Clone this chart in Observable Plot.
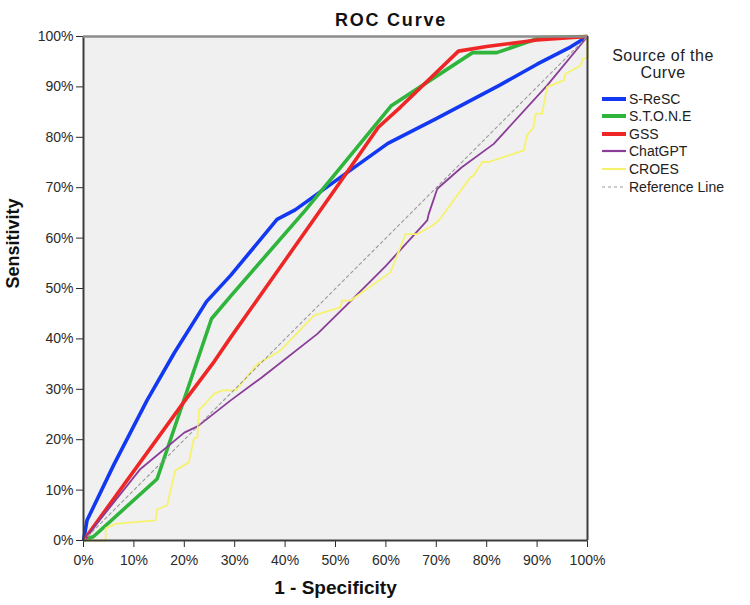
<!DOCTYPE html>
<html>
<head>
<meta charset="utf-8">
<script src="https://cdn.jsdelivr.net/npm/d3@7"></script>
<script src="https://cdn.jsdelivr.net/npm/@observablehq/plot@0.6"></script>
<style>
  html, body { margin: 0; padding: 0; background: #fff; }
  #wrap { position: relative; width: 750px; height: 605px; font-family: "Liberation Sans", Arial, sans-serif; color: #222; }
  #title { position: absolute; left: 291px; width: 200px; top: 11px; text-align: center;
           font-weight: bold; font-size: 18px; line-height: 18px; letter-spacing: 1.8px; color: #111; }
  #legend-title { position: absolute; left: 598px; width: 130px; top: 48px; text-align: center;
                  font-size: 16px; line-height: 16.5px; letter-spacing: 0.5px; color: #222; }
  .lg-row { position: absolute; left: 602px; height: 18px; display: flex; align-items: center;
            font-size: 14px; color: #222; white-space: nowrap; }
  .lg-row svg { margin-right: 3px; }
</style>
</head>
<body>
<div id="wrap">
  <div id="chart"></div>
  <div id="title">ROC Curve</div>
  <div id="legend-title">Source of the<br>Curve</div>
  <div id="legend"></div>
</div>
<script>
// Curve names, in drawing / legend order
const curveNames = ["S-ReSC", "S.T.O.N.E", "GSS", "ChatGPT", "CROES"];

// 1 - specificity (%) and sensitivity (%) along each curve
const srescX = [0, 0.7, 6, 12.6, 18, 24.4, 29.2, 38.4, 42, 52, 60.4, 70, 82.5, 90, 96.6, 100];
const srescY = [0, 4, 15, 27.8, 37.2, 47.4, 52.6, 63.7, 65.6, 72.8, 78.8, 83.7, 90.3, 94.5, 97.9, 100];

const stoneX = [0, 2, 14.6, 25.4, 29.2, 44, 61, 77.2, 82, 90.7, 100];
const stoneY = [0, 0.8, 12.2, 44, 48.5, 65.5, 86.2, 96.8, 96.8, 99.8, 100];

const gssX = [0, 20, 26, 29.2, 40, 50, 58.5, 62.9, 74.4, 80, 90, 100];
const gssY = [0, 27.6, 35.6, 40.3, 55.6, 69.8, 82, 86, 97.1, 98, 99.3, 100];

const chatgptX = [0, 11.3, 20, 22.7, 29.2, 35.3, 46.4, 52, 60, 68.2, 68.5, 70.2, 75, 81.4, 92, 100];
const chatgptY = [0, 14.2, 21.4, 22.7, 27.8, 32.3, 41, 46.5, 54.5, 63.5, 64.8, 69.8, 74, 78.7, 90.3, 100];

const croesX = [0, 4.4, 4.4, 6.3, 14.3, 14.6, 16.6, 18.2, 20.9, 21.9, 22.6, 22.9, 25.9, 27.5, 30.2, 34.5,
                39.1, 45.7, 51, 51.3, 53, 60.9, 63.9, 66.2, 68.8, 70.5, 76.8, 77.4, 79.1, 80.4, 87.4, 88,
                89.3, 89.7, 91, 92, 95.3, 95.6, 98.6, 99, 100, 100];
const croesY = [0, 0, 2.4, 3.3, 4, 6.2, 7, 13.9, 15.5, 20.2, 20.5, 25.8, 29.1, 29.8, 29.8, 35,
                37.7, 44.6, 46.3, 47.6, 47.6, 53.2, 60.8, 60.8, 62.2, 63.5, 72.1, 72.4, 75.1, 75.1, 77.4, 80.4,
                82, 84.7, 84.7, 90, 91.3, 92.6, 94.2, 95.5, 95.8, 100];

// Diagonal chance line
const refX = [0, 100];
const refY = [0, 100];

// Axis tick values (%)
const xTicks = [0, 10, 20, 30, 40, 50, 60, 70, 80, 90, 100];
const yTicks = [0, 10, 20, 30, 40, 50, 60, 70, 80, 90, 100];

const curveColors = ["#1238f2", "#2fb43c", "#ef2626", "#8a3c98", "#f7f26e"];
const curveWidths = [3.6, 3.6, 3.6, 1.8, 1.8];
const refColor = "#9a9a9a";

const xs = [srescX, stoneX, gssX, chatgptX, croesX];
const ys = [srescY, stoneY, gssY, chatgptY, croesY];
const rows = curveNames.flatMap((name, k) =>
  xs[k].map((x, i) => ({curve: name, fpr: x, tpr: ys[k][i]})));
const refRows = refX.map((x, i) => ({fpr: x, tpr: refY[i]}));

const pct = d => `${d}%`;

const chart = Plot.plot({
  width: 750,
  height: 605,
  marginLeft: 83,
  marginRight: 163,
  marginTop: 36,
  marginBottom: 65,
  style: {fontFamily: "'Liberation Sans', Arial, sans-serif", fontSize: "14px", color: "#2a2a2a", background: "transparent"},
  x: {domain: [0, 100], ticks: xTicks, tickFormat: pct, tickSize: 7, tickPadding: 8, label: null},
  y: {domain: [0, 100], ticks: yTicks, tickFormat: pct, tickSize: 7, tickPadding: 3, label: null},
  marks: [
    Plot.frame({fill: "#f0f0f0", stroke: null}),
    ...curveNames.map((name, k) =>
      Plot.line(rows.filter(r => r.curve === name), {
        x: "fpr", y: "tpr", stroke: curveColors[k], strokeWidth: curveWidths[k],
        strokeLinejoin: "round", strokeLinecap: "butt"
      })),
    Plot.line(refRows, {x: "fpr", y: "tpr", stroke: refColor, strokeWidth: 1.1, strokeDasharray: "3,3"}),
    Plot.ruleX([0, 100], {stroke: "#3c3c3c", strokeWidth: 2}),
    Plot.ruleY([0], {stroke: "#3c3c3c", strokeWidth: 2}),
    Plot.ruleY([100], {stroke: "#8c8c8c", strokeWidth: 2.5}),
    Plot.text(["1 - Specificity"], {text: d => d, frameAnchor: "bottom", dy: 53,
      fontSize: 19, fontWeight: "bold", fill: "#111"}),
    Plot.text(["Sensitivity"], {text: d => d, frameAnchor: "left", dx: -70, rotate: -90,
      fontSize: 18, fontWeight: "bold", fill: "#111"})
  ]
});
document.getElementById("chart").appendChild(chart);

// Legend rows: colour swatch + curve name
const legend = document.getElementById("legend");
const entries = curveNames.map((name, k) => ({name, color: curveColors[k], width: curveWidths[k] + 0.4, dash: null}))
  .concat([{name: "Reference Line", color: refColor, width: 1.1, dash: "3,3"}]);
entries.forEach((e, i) => {
  const row = document.createElement("div");
  row.className = "lg-row";
  row.style.top = (89.5 + i * 17.6) + "px";
  row.innerHTML = `<svg width="24" height="10"><line x1="0" x2="24" y1="5" y2="5" stroke="${e.color}" stroke-width="${e.width}"${e.dash ? ` stroke-dasharray="${e.dash}"` : ""}/></svg><span>${e.name}</span>`;
  legend.appendChild(row);
});
</script>
</body>
</html>
